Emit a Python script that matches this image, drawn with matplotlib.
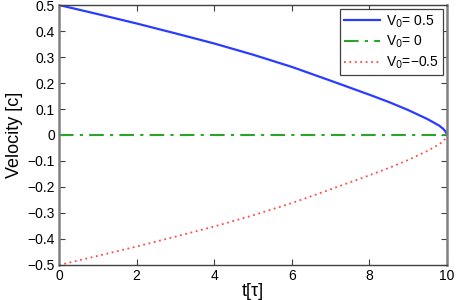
import matplotlib
matplotlib.use("Agg")
import matplotlib.pyplot as plt

t = [0, 1, 2, 3, 4, 5, 6, 7, 8, 8.5, 9, 9.5, 9.8, 9.9, 9.97, 10]
v_pos = [0.5, 0.465, 0.429, 0.391, 0.352, 0.309, 0.262, 0.209, 0.155, 0.127,
         0.096, 0.061, 0.036, 0.024, 0.012, 0.0]
v_neg = [-x for x in v_pos]
t_zero = [0, 10]
v_zero = [0, 0]

labels = ["V$_0$= 0.5", "V$_0$= 0", "V$_0$=\u22120.5"]
xticks = [0, 2, 4, 6, 8, 10]
yticks = [-0.5, -0.4, -0.3, -0.2, -0.1, 0, 0.1, 0.2, 0.3, 0.4, 0.5]

plt.rcParams['font.family'] = ['Liberation Sans', 'DejaVu Sans']
fig = plt.figure(figsize=(4.63, 3.0), dpi=100)
ax = fig.add_axes([0.1274, 0.1167, 0.8380, 0.8666])

ax.plot(t, v_pos, color='#2a3cff', lw=1.6, linestyle='-', label=labels[0])
ax.plot(t_zero, v_zero, color='#2aa52a', lw=1.5, linestyle=(0, (7, 3, 1.5, 3)), label=labels[1])
ax.plot(t, v_neg, color='#ff4a4a', lw=1.3, linestyle=(0, (1, 2)), label=labels[2])

ax.set_xlim(0, 10)
ax.set_ylim(-0.5, 0.5)
ax.set_xticks(xticks)
ax.set_yticks(yticks)
ax.set_xticklabels([str(x) for x in xticks])
ax.set_yticklabels([("\u2212" if y < 0 else "") + ("%g" % abs(y)) for y in yticks])
ax.tick_params(direction='in', top=True, right=True, labelsize=10, length=4,
               width=0.8, color='#404040', pad=3)
for side in ['left', 'right']:
    ax.spines[side].set_color('#808080')
    ax.spines[side].set_linewidth(1.8)
for side in ['top', 'bottom']:
    ax.spines[side].set_color('#404040')
    ax.spines[side].set_linewidth(1.0)

ax.set_xlabel("t[\u03c4]", fontsize=13, labelpad=0)
ax.set_ylabel("Velocity [c]", fontsize=13, labelpad=3)

leg = ax.legend(loc='upper right', fontsize=10, fancybox=False, framealpha=1,
                edgecolor='#404040', handlelength=2.6, borderaxespad=0.3,
                labelspacing=0.3, handletextpad=0.4, borderpad=0.3)
leg.get_frame().set_linewidth(0.9)

fig.savefig("out.png", dpi=100)
